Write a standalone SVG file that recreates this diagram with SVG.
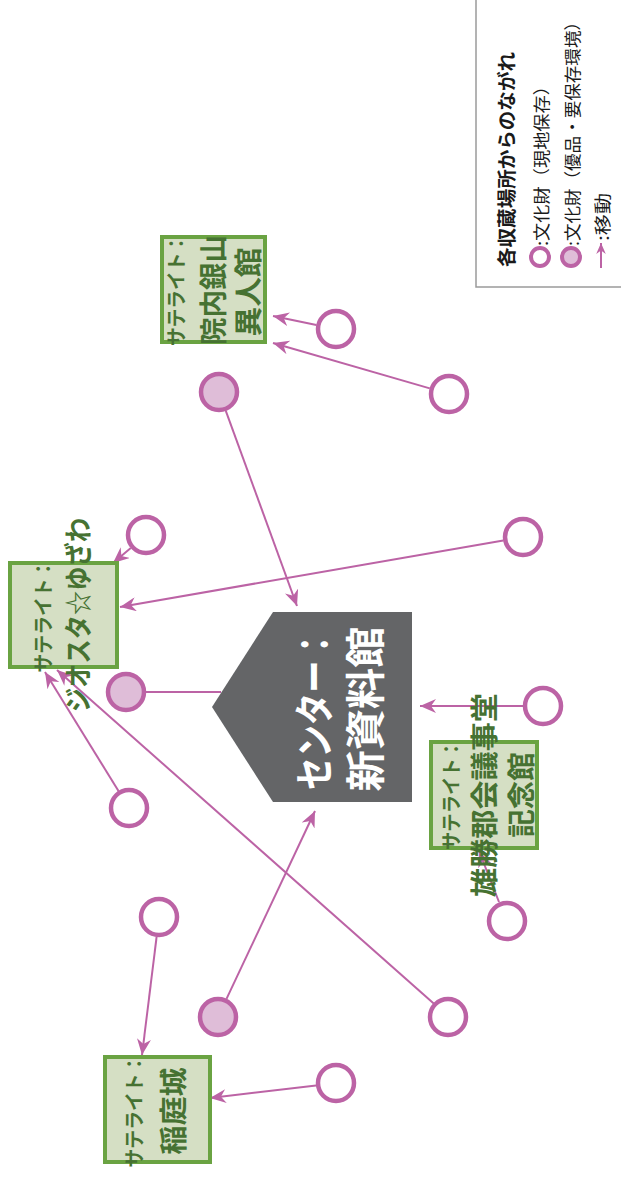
<svg xmlns="http://www.w3.org/2000/svg" width="621" height="1183" viewBox="0 0 621 1183">
<style>
.bg{fill:#ffffff}
.sat rect{fill:#d5dfc4;stroke:#6aa342;stroke-width:4}
.st{font-family:"Noto Sans CJK JP","Noto Sans",sans-serif;fill:#467232;dominant-baseline:central;text-anchor:middle}
.s1{font-size:20px;font-weight:bold}
.s2{font-size:28px;font-weight:bold}
.ctr{font-family:"Noto Sans CJK JP","Noto Sans",sans-serif;fill:#ffffff;font-size:40px;font-weight:bold;dominant-baseline:central;text-anchor:middle}
.open{fill:#ffffff;stroke:#bc63a5;stroke-width:4.5}
.full{fill:#dfbdd8;stroke:#bc63a5;stroke-width:4.5}
.con line{stroke:#bc63a5;stroke-width:2;fill:none}
.lg{font-family:"Noto Sans CJK JP","Noto Sans",sans-serif;fill:#1a1a1a;dominant-baseline:central;text-anchor:start}
</style>
<defs>
<marker id="ah" viewBox="0 0 16 14" refX="16" refY="7" markerWidth="16" markerHeight="14" markerUnits="userSpaceOnUse" orient="auto">
<path d="M0,0 L16,7 L0,14 L5,7 z" fill="#bc63a5"/>
</marker>
<marker id="ahs" viewBox="0 0 16 14" refX="16" refY="7" markerWidth="11" markerHeight="10" markerUnits="userSpaceOnUse" orient="auto">
<path d="M0,0 L16,7 L0,14 L5,7 z" fill="#bc63a5"/>
</marker>
</defs>
<rect class="bg" x="0" y="0" width="621" height="1183"/>

<g id="connectors" class="con">
<line x1="316.4" y1="325" x2="273" y2="316" marker-end="url(#ah)"/>
<line x1="429.8" y1="388.4" x2="273" y2="343" marker-end="url(#ah)"/>
<line x1="225.8" y1="410.8" x2="297" y2="606" marker-end="url(#ah)"/>
<line x1="130.8" y1="547.9" x2="113" y2="563" marker-end="url(#ah)"/>
<line x1="503.3" y1="540.4" x2="120" y2="607" marker-end="url(#ah)"/>
<line x1="146" y1="692" x2="221" y2="692"/>
<line x1="118.5" y1="791" x2="45" y2="672" marker-end="url(#ah)"/>
<line x1="434" y1="1003.8" x2="57" y2="670" marker-end="url(#ah)"/>
<line x1="156.6" y1="936.9" x2="142" y2="1055" marker-end="url(#ah)"/>
<line x1="226.5" y1="998.9" x2="315" y2="811" marker-end="url(#ah)"/>
<line x1="316.1" y1="1085.4" x2="210" y2="1098" marker-end="url(#ah)"/>
<line x1="523" y1="706" x2="420" y2="706" marker-end="url(#ah)"/>
<line x1="499" y1="902" x2="479" y2="851" marker-end="url(#ah)"/>
</g>

<g id="legend">
<rect x="476" y="-3" width="150" height="290" fill="#ffffff" stroke="#9a9a9a" stroke-width="1.5"/>
<text class="lg" x="505" y="267" transform="rotate(-90 505 267)" font-size="19" font-weight="bold" textLength="215" lengthAdjust="spacingAndGlyphs">各収蔵場所からのながれ</text>
<circle class="open" cx="540" cy="257" r="9" style="stroke-width:4"/>
<text class="lg" x="540" y="246" transform="rotate(-90 540 246)" font-size="17" textLength="169" lengthAdjust="spacingAndGlyphs">:文化財（現地保存）</text>
<circle class="full" cx="571" cy="257" r="9" style="stroke-width:4"/>
<text class="lg" x="571" y="246" transform="rotate(-90 571 246)" font-size="17" textLength="233" lengthAdjust="spacingAndGlyphs">:文化財（優品・要保存環境）</text>
<line x1="601" y1="268" x2="601" y2="243" stroke="#bc63a5" stroke-width="2" marker-end="url(#ahs)"/>
<text class="lg" x="601" y="241" transform="rotate(-90 601 241)" font-size="17" textLength="48" lengthAdjust="spacingAndGlyphs">:移動</text>
</g>

<g id="center">
<polygon points="212,707 273,612 412,612 412,802 273,802" fill="#646567"/>
<text class="ctr" x="312" y="709" transform="rotate(-90 312 709)" textLength="162" lengthAdjust="spacingAndGlyphs">センター：</text>
<text class="ctr" x="363" y="709" transform="rotate(-90 363 709)" textLength="165" lengthAdjust="spacingAndGlyphs">新資料館</text>
</g>

<g id="sat-innai" class="sat">
<rect x="162" y="237" width="103" height="105"/>
<text class="st s1" x="175" y="290" transform="rotate(-90 175 290)" textLength="112" lengthAdjust="spacingAndGlyphs">サテライト：</text>
<text class="st s2" x="212" y="290" transform="rotate(-90 212 290)" textLength="110" lengthAdjust="spacingAndGlyphs">院内銀山</text>
<text class="st s2" x="247" y="292" transform="rotate(-90 247 292)" textLength="89" lengthAdjust="spacingAndGlyphs">異人館</text>
</g>

<g id="sat-geosta" class="sat">
<rect x="10" y="563" width="107" height="104"/>
<text class="st s1" x="42" y="616" transform="rotate(-90 42 616)" textLength="113" lengthAdjust="spacingAndGlyphs">サテライト：</text>
<text class="st s2" x="77" y="615" transform="rotate(-90 77 615)" textLength="194" lengthAdjust="spacingAndGlyphs">ジオスタ☆ゆざわ</text>
</g>

<g id="sat-ogachi" class="sat">
<rect x="431" y="742" width="106" height="106"/>
<text class="st s1" x="450" y="795" transform="rotate(-90 450 795)" textLength="110" lengthAdjust="spacingAndGlyphs">サテライト：</text>
<text class="st s2" x="483" y="795" transform="rotate(-90 483 795)" textLength="204" lengthAdjust="spacingAndGlyphs">雄勝郡会議事堂</text>
<text class="st s2" x="520" y="795" transform="rotate(-90 520 795)" textLength="85" lengthAdjust="spacingAndGlyphs">記念館</text>
</g>

<g id="sat-inaniwa" class="sat">
<rect x="105" y="1057" width="105" height="105"/>
<text class="st s1" x="133" y="1111" transform="rotate(-90 133 1111)" textLength="113" lengthAdjust="spacingAndGlyphs">サテライト：</text>
<text class="st s2" x="172" y="1111" transform="rotate(-90 172 1111)" textLength="87" lengthAdjust="spacingAndGlyphs">稲庭城</text>
</g>

<g id="c1"><circle class="open" cx="336" cy="329" r="18"/></g>
<g id="c2"><circle class="open" cx="449" cy="394" r="18"/></g>
<g id="c3"><circle class="full" cx="219" cy="392" r="18"/></g>
<g id="c4"><circle class="open" cx="146" cy="535" r="18"/></g>
<g id="c5"><circle class="open" cx="523" cy="537" r="18"/></g>
<g id="c6"><circle class="full" cx="126" cy="692" r="18"/></g>
<g id="c7"><circle class="open" cx="129" cy="808" r="18"/></g>
<g id="c8"><circle class="open" cx="543" cy="706" r="18"/></g>
<g id="c9"><circle class="open" cx="507" cy="921" r="18"/></g>
<g id="c10"><circle class="open" cx="159" cy="917" r="18"/></g>
<g id="c11"><circle class="full" cx="218" cy="1017" r="18"/></g>
<g id="c12"><circle class="open" cx="448" cy="1017" r="18"/></g>
<g id="c13"><circle class="open" cx="336" cy="1083" r="18"/></g>
</svg>
